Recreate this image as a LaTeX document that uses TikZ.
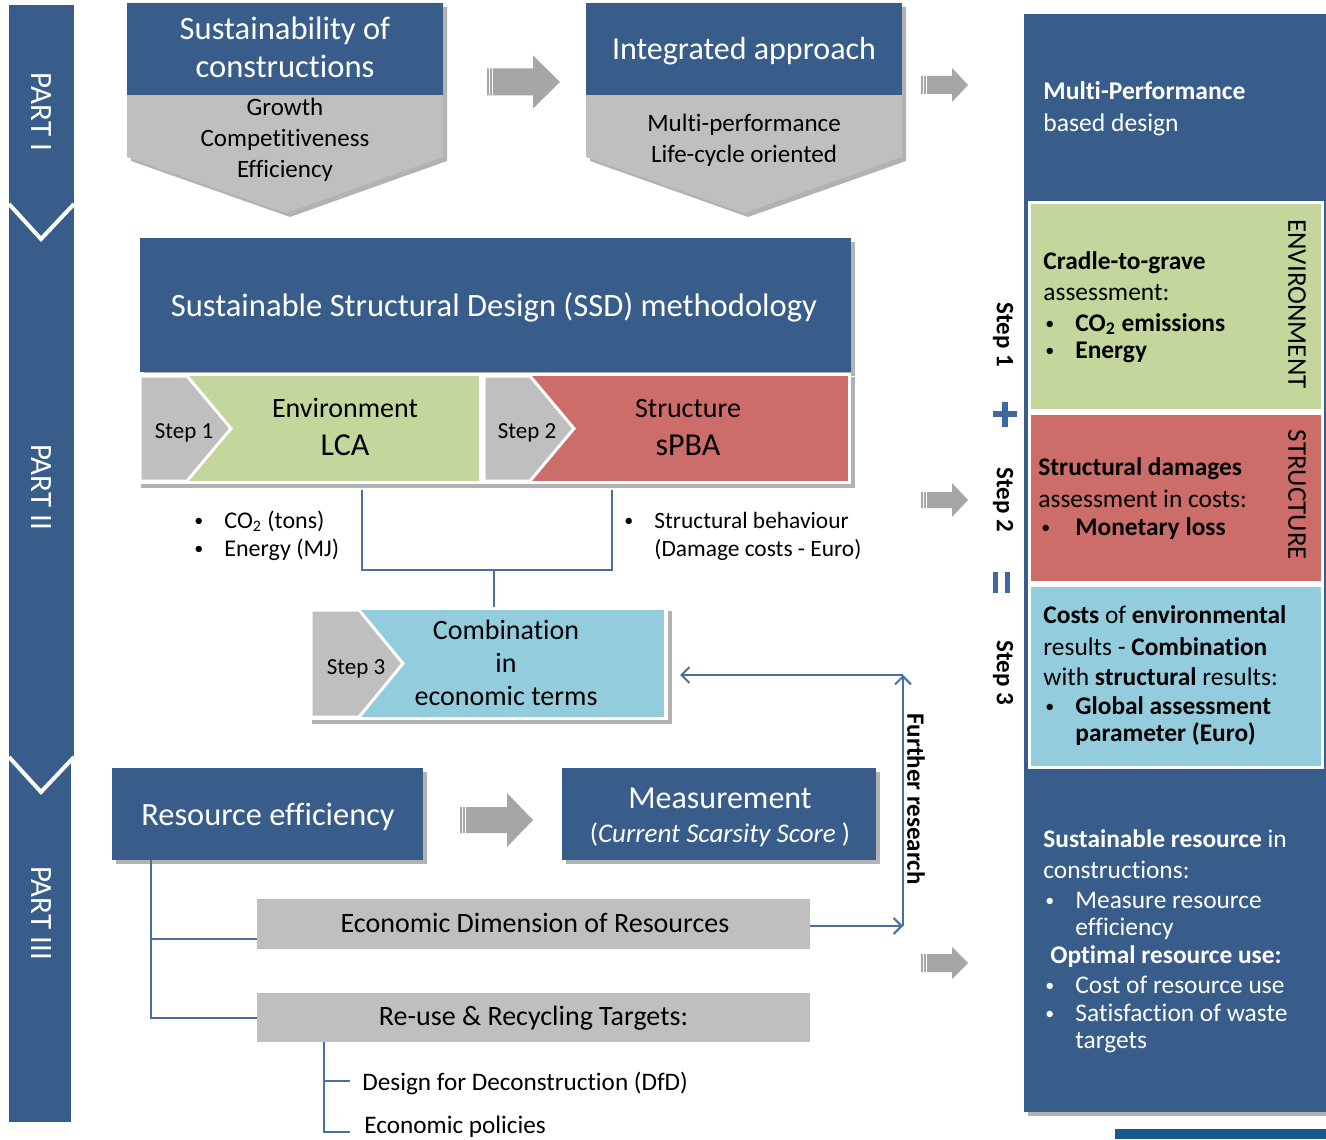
\documentclass[tikz,border=0pt]{standalone}
\usepackage{fontspec}
\setmainfont{Carlito}[Ligatures=CommonOff]
\usetikzlibrary{shadows,arrows.meta}
\definecolor{dblue}{HTML}{385D8A}
\definecolor{lgrey}{HTML}{BFBFBF}
\definecolor{agrey}{HTML}{A6A6A6}
\definecolor{envg}{HTML}{C3D69B}
\definecolor{strr}{HTML}{CC6D6A}
\definecolor{cblue}{HTML}{93CDDD}
\definecolor{lineblue}{HTML}{4A6FA0}
\definecolor{signblue}{HTML}{3F68A0}
\definecolor{fragblue}{HTML}{17598F}
\newcommand\fsz[1]{\fontsize{#1}{#1}\selectfont}
\newcommand\bul{\raisebox{0.6pt}{\fontsize{9}{9}\selectfont\textbullet}}
\newcommand\tlc[4][]{\node[inner sep=0pt,anchor=base,#1] at (#2,#3) {#4};}
\newcommand\tlw[4][]{\node[inner sep=0pt,anchor=base west,#1] at (#2,#3) {#4};}
\newcommand\blockarrow[6]{%
  \fill[agrey] (#1,#4-#5) -- (#2,#4-#5) -- (#2,#4-#6) -- (#3,#4) -- (#2,#4+#6) -- (#2,#4+#5) -- (#1,#4+#5) -- cycle;
  \draw[white,line width=0.6pt] (#1+2.5,#4-#5) -- (#1+2.5,#4+#5) (#1+5.5,#4-#5) -- (#1+5.5,#4+#5);}
\begin{document}
\begin{tikzpicture}[x=0.5pt,y=-0.5pt,
  shad/.style={drop shadow={shadow xshift=2pt,shadow yshift=-2pt,opacity=0.3,fill=black}},
  box/.style={inner sep=0pt,outer sep=0pt},
  conn/.style={draw=lineblue,line width=1pt},
  arr/.style={conn,-{Straight Barb[length=4pt,width=8pt]}},
  chev/.style={fill=lgrey,draw=white,line width=1.5pt,line join=miter}]
\useasboundingbox (0,0) rectangle (1326,1139);
\fill[white] (0,0) rectangle (1326,1139);

% ---------- left band ----------
\fill[dblue] (9,5) rectangle (74,760);
\fill[dblue] (9,757) rectangle (71,1122);
\draw[white,line width=2pt] (9,204)--(41,239)--(74,204);
\draw[white,line width=2pt] (9,757)--(41,792)--(74,757);
\node[rotate=-90,text=white,font=\fsz{15.5}] (p1) at (41,112) {PART I};
\node[rotate=-90,text=white,font=\fsz{15.5}] (p2) at (41,487) {PART II};
\node[rotate=-90,text=white,font=\fsz{15.5}] (p3) at (41,913) {PART III};

% ---------- top boxes ----------
\path[shad,fill=lgrey] (127,3)--(443,3)--(443,157)--(286,213)--(127,157)--cycle;
\node[box,fill=dblue,minimum width=158pt,minimum height=46pt] (sust) at (285,49) {};
\tlc[text=white,font=\fsz{16.3}]{285}{40}{Sustainability of}
\tlc[text=white,font=\fsz{16.3}]{285}{78}{constructions}
\tlc[font=\fsz{12.5}]{285}{116}{Growth}
\tlc[font=\fsz{12.5}]{285}{147}{Competitiveness}
\tlc[font=\fsz{12.5}]{285}{177}{Efficiency}

\blockarrow{487}{533}{560}{82}{13.5}{26.5}

\path[shad,fill=lgrey] (586,3)--(902,3)--(902,157)--(744,213)--(586,157)--cycle;
\node[box,fill=dblue,minimum width=158pt,minimum height=46pt] (integ) at (744,49) {};
\tlc[text=white,font=\fsz{16}]{744}{60}{Integrated approach}
\tlc[font=\fsz{12.5}]{744}{132}{Multi-performance}
\tlc[font=\fsz{12.5}]{744}{163}{Life-cycle oriented}

\blockarrow{921}{952}{968}{85}{9}{17}

% ---------- SSD ----------
\node[box,shad,fill=dblue,minimum width=355.5pt,minimum height=67pt] (ssd) at (495.5,305) {};
\tlc[text=white,font=\fsz{16.3}]{494}{316}{Sustainable Structural Design (SSD) methodology}

\node[box,shad,fill=white,minimum width=357pt,minimum height=55.5pt] (strip) at (494,428.5) {};
\node[box,fill=envg,minimum width=169.5pt,minimum height=52.5pt] (env) at (309.5,428.5) {};
\node[box,fill=strr,minimum width=182pt,minimum height=52.5pt] (str) at (666,428.5) {};
\draw[white,line width=1.5pt] (481.5,376)--(481.5,481);
\filldraw[chev] (140,376)--(187,376)--(231,428.5)--(187,481)--(140,481)--cycle;
\filldraw[chev] (484,376)--(530,376)--(574,428.5)--(530,481)--(484,481)--cycle;
\tlc[font=\fsz{11.5}]{184}{438}{Step 1}
\tlc[font=\fsz{11.5}]{527}{438}{Step 2}
\tlc[font=\fsz{14}]{345}{417}{Environment}
\tlc[font=\fsz{16}]{345}{455}{LCA}
\tlc[font=\fsz{14}]{688}{417}{Structure}
\tlc[font=\fsz{16}]{688}{455}{sPBA}

\tlw[font=\fsz{12}]{194}{528}{\bul}
\tlw[font=\fsz{12}]{224}{528}{CO\textsubscript{2} (tons)}
\tlw[font=\fsz{12}]{194}{556}{\bul}
\tlw[font=\fsz{12}]{224}{556}{Energy (MJ)}
\tlw[font=\fsz{12}]{624}{528}{\bul}
\tlw[font=\fsz{11.7}]{654}{528}{Structural behaviour}
\tlw[font=\fsz{11.7}]{654}{556}{(Damage costs - Euro)}

% ---------- combination ----------
\node[box,shad,fill=white,minimum width=180pt,minimum height=56.5pt] (combo) at (488,663.5) {};
\fill[cblue] (311,610) rectangle (664,717);
\filldraw[chev] (311,610)--(359,610)--(403,663.5)--(359,717)--(311,717)--cycle;
\tlc[font=\fsz{11.5}]{356}{674}{Step 3}
\tlc[font=\fsz{14}]{506}{639}{Combination}
\tlc[font=\fsz{14}]{506}{672}{in}
\tlc[font=\fsz{14}]{506}{705}{economic terms}

\coordinate (envd) at (362,490);
\coordinate (strd) at (612,490);
\coordinate (jn) at (494,570);
\draw[conn] (envd) |- (jn) -| (strd);
\draw[conn] (jn) -- (jn |- combo.north);

% ---------- part III ----------
\node[box,shad,fill=dblue,minimum width=155.5pt,minimum height=46pt] (resef) at (267.5,814) {};
\tlc[text=white,font=\fsz{16.2}]{268}{825}{Resource efficiency}
\node[box,shad,fill=dblue,minimum width=157pt,minimum height=46pt] (meas) at (719,814) {};
\tlc[text=white,font=\fsz{16}]{720}{808}{Measurement}
\tlc[text=white,font=\fsz{13.5}]{720}{842}{(\textit{Current Scarsity Score} )}
\blockarrow{460}{507}{533}{820}{13}{27}

\node[box,fill=lgrey,minimum width=276.5pt,minimum height=25pt] (econ) at (533.5,924) {};
\tlc[font=\fsz{14}]{535}{932}{Economic Dimension of Resources}
\node[box,fill=lgrey,minimum width=276.5pt,minimum height=24.5pt] (reuse) at (533.5,1017.5) {};
\tlc[font=\fsz{14}]{533.5}{1025}{Re-use \& Recycling Targets:}

\coordinate (t0) at (151,860);
\coordinate (t1) at (151,939);
\coordinate (t2) at (151,1018);
\draw[conn] (t0) -- (t2) -- (t2 -| reuse.west);
\draw[conn] (t1) -- (t1 -| econ.west);
\coordinate (u0) at (324,1042);
\coordinate (u1) at (350,1081);
\coordinate (u2) at (350,1132);
\draw[conn] (u0) |- (u2);
\draw[conn] (u0 |- u1) -- (u1);
\tlw[font=\fsz{12.6}]{362}{1090}{Design for Deconstruction (DfD)}
\tlw[font=\fsz{12.6}]{364}{1133}{Economic policies}

% further research
\coordinate (frb) at (903,926);
\coordinate (frt) at (903,675);
\coordinate (comboin) at (680,675);
\draw[arr] (econ.east |- frb) -- (frb);
\draw[arr] (frb) -- (frt);
\draw[arr] (frt) -- (comboin);
\node[rotate=-90,font=\fsz{12.5}\bfseries] (fr) at (916,799) {Further research};

% ---------- right column ----------
\node[box,shad,fill=dblue,minimum width=151pt,minimum height=549pt] (rcol) at (1175,563) {};
\node[box,fill=envg,draw=white,line width=1.5pt,minimum width=146.5pt,minimum height=103.5pt] (renv) at (1175.5,306.5) {};
\node[box,fill=strr,draw=white,line width=1.5pt,minimum width=146.5pt,minimum height=84.5pt] (rstr) at (1175.5,497.5) {};
\node[box,fill=cblue,draw=white,line width=1.5pt,minimum width=146.5pt,minimum height=91pt] (rcomb) at (1175.5,676) {};

\tlw[text=white,font=\fsz{12.8}]{1043}{100}{\textbf{Multi-Performance}}
\tlw[text=white,font=\fsz{12.8}]{1043}{132}{based design}

\tlw[font=\fsz{12.7}]{1043}{270}{\textbf{Cradle-to-grave}}
\tlw[font=\fsz{12.7}]{1043}{300}{assessment:}
\tlw[font=\fsz{12.7}]{1045}{331}{\bul}
\tlw[font=\fsz{12.7}]{1075}{331}{\textbf{CO\textsubscript{2} emissions}}
\tlw[font=\fsz{12.7}]{1045}{358}{\bul}
\tlw[font=\fsz{12.7}]{1075}{358}{\textbf{Energy}}
\node[rotate=-90,font=\fsz{13.5}] (envlab) at (1297,304) {ENVIRONMENT};

\tlw[font=\fsz{12.7}]{1038}{475}{\textbf{Structural damages}}
\tlw[font=\fsz{12.7}]{1038}{507}{assessment in costs:}
\tlw[font=\fsz{12.7}]{1041}{535}{\bul}
\tlw[font=\fsz{12.7}]{1075}{535}{\textbf{Monetary loss}}
\node[rotate=-90,font=\fsz{13.5}] (strlab) at (1297,495) {STRUCTURE};

\tlw[font=\fsz{12.7}]{1043}{623}{\textbf{Costs} of \textbf{environmental}}
\tlw[font=\fsz{12.7}]{1043}{655}{results - \textbf{Combination}}
\tlw[font=\fsz{12.7}]{1043}{685}{with \textbf{structural} results:}
\tlw[font=\fsz{12.7}]{1045}{714}{\bul}
\tlw[font=\fsz{12.7}]{1075}{714}{\textbf{Global assessment}}
\tlw[font=\fsz{12.7}]{1075}{741}{\textbf{parameter (Euro)}}

\tlw[text=white,font=\fsz{12.7}]{1043}{847}{\textbf{Sustainable resource} in}
\tlw[text=white,font=\fsz{12.7}]{1043}{878}{constructions:}
\tlw[text=white,font=\fsz{12.7}]{1045}{908}{\bul}
\tlw[text=white,font=\fsz{12.7}]{1075}{908}{Measure resource}
\tlw[text=white,font=\fsz{12.7}]{1075}{935}{efficiency}
\tlw[text=white,font=\fsz{12.7}]{1050}{963}{\textbf{Optimal resource use:}}
\tlw[text=white,font=\fsz{12.7}]{1045}{993}{\bul}
\tlw[text=white,font=\fsz{12.7}]{1075}{993}{Cost of resource use}
\tlw[text=white,font=\fsz{12.7}]{1045}{1021}{\bul}
\tlw[text=white,font=\fsz{12.7}]{1075}{1021}{Satisfaction of waste}
\tlw[text=white,font=\fsz{12.7}]{1075}{1048}{targets}

% step labels and signs
\node[rotate=-90,font=\fsz{12.5}\bfseries] (s1) at (1003,335) {Step 1};
\node[rotate=-90,font=\fsz{12.5}\bfseries] (s2) at (1003,500) {Step 2};
\node[rotate=-90,font=\fsz{12.5}\bfseries] (s3) at (1003,673) {Step 3};
\draw[signblue,line width=3pt] (993,414)--(1017,414) (1005,402)--(1005,427);
\draw[signblue,line width=2.5pt] (995,572)--(995,593) (1007,572)--(1007,593);

\blockarrow{921}{952}{968}{500}{8}{17}
\blockarrow{921}{952}{968}{963}{9}{16}

\fill[fragblue] (1115,1129) rectangle (1326,1139);
\end{tikzpicture}
\end{document}
